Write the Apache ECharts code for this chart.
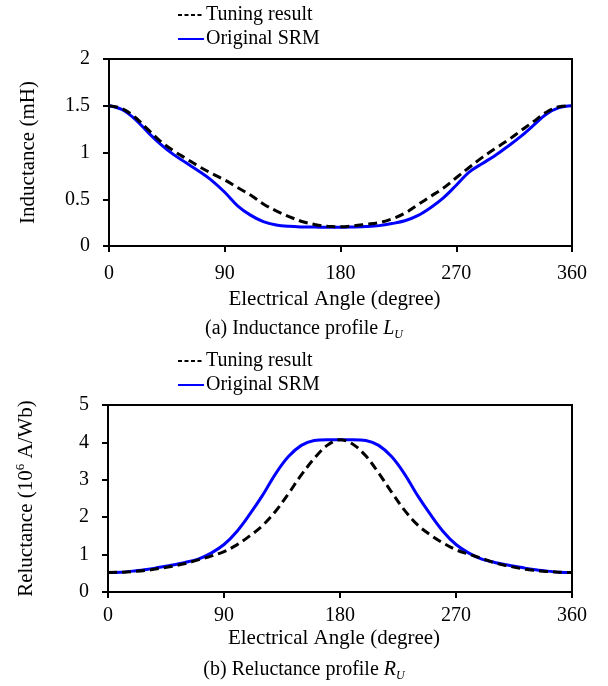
<!DOCTYPE html>
<html>
<head>
<meta charset="utf-8">
<script src="https://cdn.jsdelivr.net/npm/echarts@6/dist/echarts.min.js"></script>
<style>
  html, body { margin: 0; padding: 0; background: #fff; }
  #chart { width: 608px; height: 686px; }
</style>
</head>
<body>
<div id="chart"></div>
<script>
// Electrical angle samples (degrees)
var angles = [0, 10, 20, 30, 40, 50, 60, 70, 80, 90, 100, 110, 120, 130, 140, 150, 160, 170, 180,
              190, 200, 210, 220, 230, 240, 250, 260, 270, 280, 290, 300, 310, 320, 330, 340, 350, 360];

// Inductance profile L_U (mH)
var inductanceOriginal = [1.50, 1.46, 1.36, 1.22, 1.09, 0.98, 0.89, 0.80, 0.70, 0.575, 0.43, 0.33, 0.26, 0.225, 0.21, 0.204, 0.202, 0.20, 0.20,
                          0.203, 0.208, 0.218, 0.24, 0.27, 0.325, 0.41, 0.515, 0.65, 0.79, 0.88, 0.965, 1.065, 1.17, 1.29, 1.41, 1.48, 1.50];
var inductanceTuning   = [1.50, 1.47, 1.38, 1.25, 1.12, 1.02, 0.935, 0.85, 0.775, 0.706, 0.625, 0.545, 0.45, 0.375, 0.315, 0.262, 0.23, 0.21, 0.205,
                          0.215, 0.232, 0.25, 0.29, 0.35, 0.44, 0.53, 0.62, 0.73, 0.84, 0.945, 1.04, 1.13, 1.23, 1.33, 1.43, 1.49, 1.50];

// Reluctance profile R_U (10^6 A/Wb)
var reluctanceOriginal = [0.52, 0.53, 0.56, 0.60, 0.66, 0.72, 0.79, 0.88, 1.04, 1.27, 1.62, 2.08, 2.59, 3.16, 3.62, 3.92, 4.05, 4.07, 4.07,
                          4.07, 4.05, 3.92, 3.62, 3.16, 2.59, 2.08, 1.62, 1.27, 1.04, 0.88, 0.79, 0.72, 0.66, 0.60, 0.56, 0.53, 0.52];
var reluctanceTuning   = [0.52, 0.53, 0.55, 0.58, 0.63, 0.69, 0.76, 0.86, 0.96, 1.08, 1.26, 1.50, 1.78, 2.16, 2.63, 3.13, 3.57, 3.92, 4.07,
                          3.95, 3.64, 3.18, 2.67, 2.19, 1.80, 1.53, 1.31, 1.13, 1.01, 0.90, 0.78, 0.70, 0.63, 0.58, 0.55, 0.53, 0.52];

var angleTicks = [0, 90, 180, 270, 360];
var seriesNames = ['Tuning result', 'Original SRM'];

function pairs(xs, ys) {
  return xs.map(function (x, i) { return [x, ys[i]]; });
}

var FONT = '"Liberation Serif", "Times New Roman", serif';
var BLACK = '#000';
var BLUE = '#0000ff';

function xAxisFor(gridIndex, labelMargin, nameGap) {
  return {
    gridIndex: gridIndex,
    type: 'value',
    min: angleTicks[0],
    max: angleTicks[angleTicks.length - 1],
    interval: angleTicks[1] - angleTicks[0],
    name: 'Electrical Angle (degree)',
    nameLocation: 'middle',
    nameGap: nameGap,
    nameTextStyle: { fontFamily: FONT, fontSize: 21, color: BLACK, padding: [0, 12, 0, 0] },
    axisLine: { show: true, onZero: false, lineStyle: { color: BLACK, width: 2 } },
    axisTick: { show: true, length: 6, lineStyle: { color: BLACK, width: 2 } },
    axisLabel: { fontFamily: FONT, fontSize: 20, color: BLACK, margin: labelMargin },
    splitLine: { show: false }
  };
}

function yAxisFor(gridIndex, max, interval, name, rich) {
  return {
    gridIndex: gridIndex,
    type: 'value',
    min: 0,
    max: max,
    interval: interval,
    name: name,
    nameLocation: 'middle',
    nameRotate: 90,
    nameGap: 70,
    nameTextStyle: { fontFamily: FONT, fontSize: 21, color: BLACK, rich: rich || {} },
    axisLine: { show: true, onZero: false, lineStyle: { color: BLACK, width: 2 } },
    axisTick: { show: true, length: 6, lineStyle: { color: BLACK, width: 2 } },
    axisLabel: { fontFamily: FONT, fontSize: 20, color: BLACK, margin: 19 },
    splitLine: { show: false }
  };
}

function legendFor(top) {
  return {
    orient: 'vertical',
    left: 172,
    top: top,
    itemWidth: 26,
    itemHeight: 14,
    itemGap: 4,
    selectedMode: false,
    textStyle: { fontFamily: FONT, fontSize: 20, color: BLACK, lineHeight: 18, padding: [0, 0, 0, -3] },
    data: [
      { name: seriesNames[0], itemStyle: { opacity: 0 }, lineStyle: { type: [4, 2.5], width: 2, color: BLACK } },
      { name: seriesNames[1], itemStyle: { opacity: 0 }, lineStyle: { width: 2, color: BLUE } }
    ]
  };
}

var captionRich = {
  n: { fontFamily: FONT, fontSize: 20, fontWeight: 'normal', color: BLACK, lineHeight: 24 },
  i: { fontFamily: FONT, fontSize: 20, fontWeight: 'normal', color: BLACK, fontStyle: 'italic', lineHeight: 24 },
  s: { fontFamily: FONT, fontSize: 12, fontWeight: 'normal', color: BLACK, fontStyle: 'italic', verticalAlign: 'bottom', lineHeight: 24 }
};

var relNameRich = {
  n: { fontFamily: FONT, fontSize: 21, color: BLACK, lineHeight: 24 },
  sup: { fontFamily: FONT, fontSize: 13, color: BLACK, verticalAlign: 'top', lineHeight: 24 }
};

function lineSeries(name, xi, data, color, dashed) {
  return {
    name: name,
    type: 'line',
    xAxisIndex: xi,
    yAxisIndex: xi,
    data: data,
    smooth: 0.35,
    showSymbol: false,
    symbol: 'circle',
    animation: false,
    lineStyle: { color: color, width: 3, type: dashed ? [9, 5] : 'solid', cap: 'butt' },
    itemStyle: { color: color }
  };
}

var chart = echarts.init(document.getElementById('chart'), null, { renderer: 'canvas' });

chart.setOption({
  backgroundColor: '#fff',
  animation: false,
  title: [
    {
      text: '{n|(a) Inductance profile }{i|L}{s|U}',
      left: 'center',
      top: 312,
      textStyle: { fontWeight: 'normal', rich: captionRich }
    },
    {
      text: '{n|(b) Reluctance profile }{i|R}{s|U}',
      left: 'center',
      top: 653,
      textStyle: { fontWeight: 'normal', rich: captionRich }
    }
  ],
  legend: [legendFor(0), legendFor(346)],
  grid: [
    { left: 109, top: 59, width: 463, height: 187, show: true, borderColor: BLACK, borderWidth: 2, backgroundColor: 'transparent' },
    { left: 108, top: 405, width: 464, height: 187, show: true, borderColor: BLACK, borderWidth: 2, backgroundColor: 'transparent' }
  ],
  xAxis: [xAxisFor(0, 18, 43), xAxisFor(1, 14, 36)],
  yAxis: [
    yAxisFor(0, 2, 0.5, 'Inductance (mH)'),
    yAxisFor(1, 5, 1, '{n|Reluctance (10}{sup|6}{n| A/Wb)}', relNameRich)
  ],
  series: [
    lineSeries(seriesNames[1], 0, pairs(angles, inductanceOriginal), BLUE, false),
    lineSeries(seriesNames[0], 0, pairs(angles, inductanceTuning), BLACK, true),
    lineSeries(seriesNames[1], 1, pairs(angles, reluctanceOriginal), BLUE, false),
    lineSeries(seriesNames[0], 1, pairs(angles, reluctanceTuning), BLACK, true)
  ]
});
</script>
</body>
</html>
